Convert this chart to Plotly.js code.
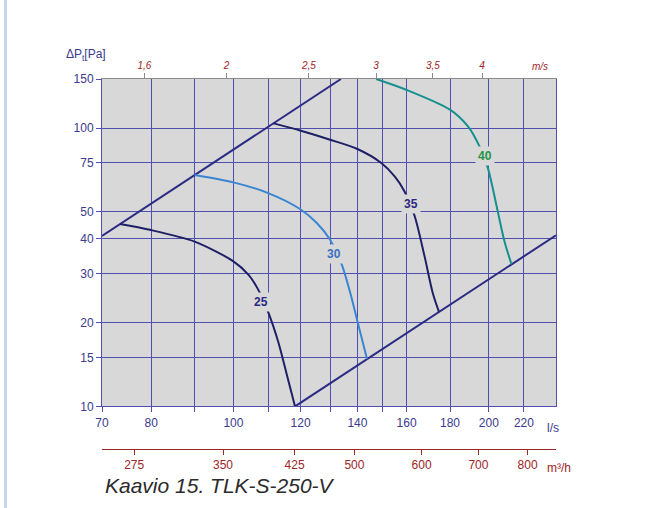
<!DOCTYPE html>
<html>
<head>
<meta charset="utf-8">
<script src="https://cdn.plot.ly/plotly-3.0.1.min.js"></script>
<style>
  html, body { margin: 0; padding: 0; background: #ffffff; }
  #chart { width: 660px; height: 508px; }
</style>
</head>
<body>
<div id="chart"></div>
<script>
// Fan curves for TLK-S-250-V: flow [l/s] vs total pressure [Pa]
const curve25Flow = [73.5, 79.7, 90, 100, 104.2, 106.8, 109.9, 112.9, 115.6, 118.2];
const curve25Dp   = [45.2, 43.1, 39.1, 33.2, 29.7, 26.5, 21.8, 17.1, 13.0, 10.0];

const curve30Flow = [90, 100, 109.9, 119.8, 125.4, 130, 134.2, 137.3, 140.2, 143.7];
const curve30Dp   = [67.8, 63.8, 58.4, 51.2, 45.6, 39.7, 32.3, 25.6, 19.9, 14.8];

const curve35Flow = [111.5, 119.8, 130, 140, 149.4, 154.9, 159.1, 163.5, 168.0, 171.8, 174.7];
const curve35Dp   = [103.9, 98.0, 90.8, 84.1, 74.9, 67.0, 59.2, 48.4, 34.6, 25.5, 21.85];

const curve40Flow = [147.3, 159.8, 180, 189.0, 195.0, 199.5, 204.9, 208.7, 212.7];
const curve40Dp   = [150, 137.3, 116.4, 101.3, 85.9, 71.8, 50.2, 39.1, 32.4];

// Operating range limits (system lines)
const upperLimitFlow = [70, 133.9];
const upperLimitDp   = [41.0, 150];
const lowerLimitFlow = [118.2, 240];
const lowerLimitDp   = [10, 41.2];

// Curve labels and their positions
const curveLabels   = ['25', '30', '35', '40'];
const labelFlow     = [107.8, 131.4, 161.7, 197.7];
const labelDp       = [23.7, 35.3, 53.3, 79.1];

// Axis ticks
const flowTicks     = [70, 80, 90, 100, 110, 120, 130, 140, 150, 160, 180, 200, 220];
const flowTickText  = ['70', '80', '', '100', '', '120', '', '140', '', '160', '180', '200', '220'];
const dpTicks       = [10, 15, 20, 30, 40, 50, 75, 100, 150];
const velocityTicks = [1.6, 2, 2.5, 3, 3.5, 4];
const velocityText  = ['1,6', '2', '2,5', '3', '3,5', '4'];
const m3hTicks      = [275, 350, 425, 500, 600, 700, 800];

// Duct Ø250 mm cross-section, used to convert velocity and m³/h to l/s
const DUCT_AREA = Math.PI * 0.125 * 0.125;
const velocityPos = velocityTicks.map(v => v * DUCT_AREA * 1000);
const m3hPos = m3hTicks.map(v => v / 3.6);

const FONT = 'Liberation Sans, Arial, Helvetica, sans-serif';
const NAVY = '#1f1f66';
const LINE = '#2b2b85';
const TXT = '#3a3a8e';
const RED = '#9c2626';
const GRID = '#4f4fae';
const BG = '#d8d8d8';

const xRange = [Math.log10(70), Math.log10(240)];
const yRange = [Math.log10(10), Math.log10(150)];

function curve(x, y, color) {
  return {
    x: x, y: y, type: 'scatter', mode: 'lines',
    line: { color: color, width: 2, shape: 'spline', smoothing: 0.8 },
    hoverinfo: 'skip', showlegend: false
  };
}

const traces = [
  curve(upperLimitFlow, upperLimitDp, LINE),
  curve(lowerLimitFlow, lowerLimitDp, LINE),
  curve(curve25Flow, curve25Dp, NAVY),
  curve(curve30Flow, curve30Dp, '#3a86d2'),
  curve(curve35Flow, curve35Dp, NAVY),
  curve(curve40Flow, curve40Dp, '#16908e'),
  // carries the top velocity scale
  { x: [70, 240], y: [10, 10], xaxis: 'x2', mode: 'none', type: 'scatter', hoverinfo: 'skip', showlegend: false },
  // carries the bottom m³/h scale
  { x: [70, 240], y: [10, 10], xaxis: 'x3', mode: 'none', type: 'scatter', hoverinfo: 'skip', showlegend: false }
];

const labelColors = ['#2a2a80', '#3a6fc2', '#2a2a80', '#1f9446'];
const annotations = curveLabels.map((t, i) => ({
  x: Math.log10(labelFlow[i]), y: Math.log10(labelDp[i]), xref: 'x', yref: 'y',
  text: '<b>' + t + '</b>', showarrow: false, xanchor: 'center', yanchor: 'middle',
  font: { family: FONT, size: 12, color: labelColors[i] },
  bgcolor: BG, borderpad: 2
}));

function paperText(x, y, text, font, xanchor) {
  return { xref: 'paper', yref: 'paper', x: x, y: y, text: text, showarrow: false,
           xanchor: xanchor || 'left', yanchor: 'middle', font: font };
}

annotations.push(
  paperText(-0.0346, 1.065, 'ΔP<sub>t</sub>[Pa]', { family: FONT, size: 12, color: TXT }, 'center'),
  paperText(0.976, 0.058, 'l/s', { family: FONT, size: 12, color: TXT }),
  paperText(0.943, 1.033, 'm/s', { family: FONT, size: 10, color: RED, style: 'italic' }),
  paperText(0.976, -0.05, 'm³/h', { family: FONT, size: 12, color: RED }),
  paperText(0.002, -0.099, 'Kaavio 15. TLK-S-250-V', { family: FONT, size: 21, color: '#2b2b2b', style: 'italic' })
);

const layout = {
  width: 660, height: 508,
  margin: { l: 102, r: 104, t: 79, b: 59 },
  paper_bgcolor: '#ffffff',
  plot_bgcolor: BG,
  showlegend: false,
  font: { family: FONT, size: 12, color: TXT },
  xaxis: {
    type: 'log', range: xRange, anchor: 'y',
    tickvals: flowTicks, ticktext: flowTickText,
    ticks: 'outside', ticklen: 5, tickcolor: GRID, tickwidth: 1,
    tickfont: { family: FONT, size: 12, color: TXT },
    showgrid: true, gridcolor: GRID, gridwidth: 1,
    showline: true, linecolor: GRID, linewidth: 1, zeroline: false
  },
  xaxis2: {
    type: 'log', range: xRange, overlaying: 'x', side: 'top', anchor: 'y',
    tickvals: velocityPos, ticktext: velocityText,
    ticks: 'outside', ticklen: 5, tickcolor: '#8a8a8a',
    tickfont: { family: FONT, size: 10, color: RED, style: 'italic' },
    showgrid: false, showline: true, linecolor: '#8a8a8a', linewidth: 1, zeroline: false
  },
  xaxis3: {
    type: 'log', range: xRange, overlaying: 'x', anchor: 'free', position: 0, side: 'bottom',
    tickvals: m3hPos, ticktext: m3hTicks.map(String),
    ticks: 'outside', ticklen: 5, tickcolor: RED,
    tickfont: { family: FONT, size: 12, color: RED },
    showgrid: false, showline: true, linecolor: RED, linewidth: 1, zeroline: false
  },
  yaxis: {
    type: 'log', range: yRange, domain: [0.115, 1],
    tickvals: dpTicks, ticktext: dpTicks.map(String),
    ticks: 'outside', ticklen: 5, tickcolor: GRID,
    tickfont: { family: FONT, size: 12, color: TXT },
    showgrid: true, gridcolor: GRID, gridwidth: 1,
    showline: true, linecolor: GRID, linewidth: 1, mirror: true, zeroline: false
  },
  shapes: [
    { type: 'line', xref: 'paper', yref: 'paper', x0: -0.2125, x1: -0.2125, y0: -0.16, y1: 1.22,
      line: { color: '#c9d3f2', width: 3 } }
  ],
  annotations: annotations
};

Plotly.newPlot('chart', traces, layout, { staticPlot: true, displayModeBar: false });
</script>
</body>
</html>
